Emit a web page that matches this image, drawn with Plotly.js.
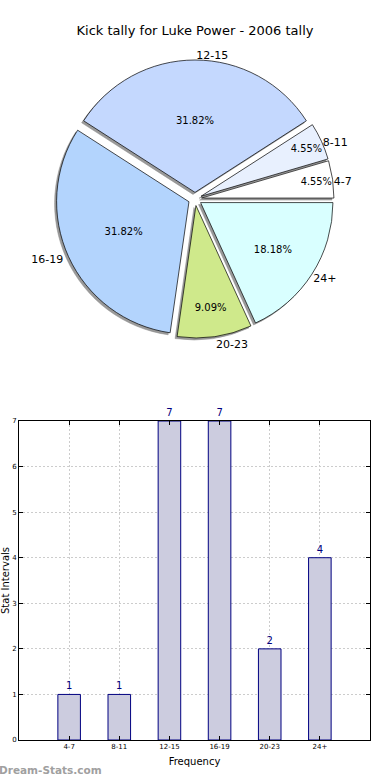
<!DOCTYPE html>
<html>
<head>
<meta charset="utf-8">
<script src="https://cdn.plot.ly/plotly-3.0.1.min.js"></script>
<style>
html,body{margin:0;padding:0;background:#fff;}
#chart{width:390px;height:780px;}
</style>
</head>
<body>
<div id="chart"></div>
<script>
const categories = ['4-7', '8-11', '12-15', '16-19', '20-23', '24+'];
const counts = [1, 1, 7, 7, 2, 4];
const sliceColors = ['#ffffff', '#e8f0fe', '#c4d8fe', '#b3d4fd', '#cfe98b', '#d9ffff'];
const yTicks = [0, 1, 2, 3, 4, 5, 6, 7];
const titleText = 'Kick tally for Luke Power - 2006 tally';

const FONT = 'DejaVu Sans, Liberation Sans, sans-serif';
const W = 390, H = 780;
const cx = 195, cy = 199, R = 139;
const dom = (x0, y0) => ({
  x: [(x0 - R) / W, (x0 + R) / W],
  y: [(H - y0 - R) / H, (H - y0 + R) / H]
});

const total = counts.reduce((a, b) => a + b, 0);
// first slice should start at 3 o'clock going counterclockwise
const rot = 90 - 360 * counts[0] / total;
const pulls = categories.map(() => 0.05);

const shadow = {
  type: 'pie', labels: categories, values: counts, sort: false,
  direction: 'counterclockwise', rotation: rot, pull: pulls,
  domain: dom(cx - 2, cy + 2),
  marker: {colors: categories.map(() => '#999999'), line: {color: '#8a8a8a', width: 0.5}},
  textinfo: 'label', textposition: 'outside',
  outsidetextfont: {family: FONT, size: 11, color: '#000'},
  showlegend: false, hoverinfo: 'skip'
};

const pie = {
  type: 'pie', labels: categories, values: counts, sort: false,
  direction: 'counterclockwise', rotation: rot, pull: pulls,
  domain: dom(cx, cy),
  marker: {colors: sliceColors, line: {color: '#000', width: 0.7}},
  texttemplate: '%{percent:.2%}', textposition: 'inside',
  insidetextorientation: 'horizontal',
  insidetextfont: {family: FONT, size: 10, color: '#000'},
  showlegend: false
};

const bars = {
  type: 'bar', x: categories, y: counts, width: 0.45,
  marker: {color: '#ccccdf', line: {color: '#000080', width: 1}},
  text: counts.map(String), textposition: 'outside', cliponaxis: false,
  textfont: {family: FONT, size: 10, color: '#000080'},
  xaxis: 'x', yaxis: 'y', showlegend: false
};

const layout = {
  width: W, height: H,
  margin: {l: 0, r: 0, t: 0, b: 0},
  paper_bgcolor: '#fff', plot_bgcolor: '#fff',
  font: {family: FONT, color: '#000'},
  title: {text: titleText, x: 0.5, xanchor: 'center', y: 1 - 30 / H, yanchor: 'middle',
          font: {family: FONT, size: 13, color: '#000'}},
  xaxis: {
    domain: [19 / W, 370 / W], type: 'category', range: [-1, 6],
    showline: true, linecolor: '#000', linewidth: 1, mirror: 'ticks',
    ticks: 'inside', ticklen: 4, tickcolor: '#000',
    showgrid: true, gridcolor: '#cccccc', griddash: '2px,2px', gridwidth: 1,
    tickfont: {family: FONT, size: 7, color: '#000'},
    title: {text: 'Frequency', font: {family: FONT, size: 10, color: '#000'}, standoff: 7},
    zeroline: false, fixedrange: true
  },
  yaxis: {
    domain: [40 / H, 359 / H], range: [0, 7], tickvals: yTicks,
    showline: true, linecolor: '#000', linewidth: 1, mirror: 'ticks',
    ticks: 'inside', ticklen: 4, tickcolor: '#000',
    showgrid: true, gridcolor: '#cccccc', griddash: '2px,2px', gridwidth: 1,
    tickfont: {family: FONT, size: 7, color: '#000'},
    title: {text: 'Stat Intervals', font: {family: FONT, size: 10, color: '#000'}, standoff: 3},
    zeroline: false, fixedrange: true
  },
  annotations: [{
    text: 'Dream-Stats.com', xref: 'paper', yref: 'paper', x: 0, y: 2 / H,
    xanchor: 'left', yanchor: 'bottom', showarrow: false, xshift: -3,
    font: {family: FONT, size: 10.5, color: '#a0a0a0', weight: 'bold'}
  }]
};

Plotly.newPlot('chart', [shadow, pie, bars], layout, {displayModeBar: false, staticPlot: true});
</script>
</body>
</html>
